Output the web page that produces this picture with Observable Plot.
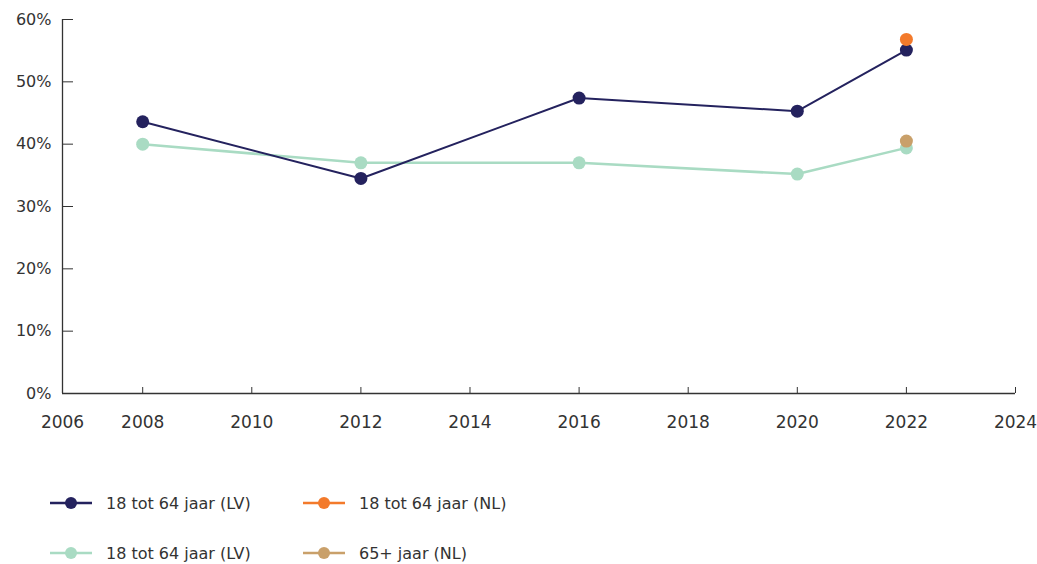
<!DOCTYPE html>
<html>
<head>
<meta charset="utf-8">
<script src="https://cdn.jsdelivr.net/npm/d3@7"></script>
<script src="https://cdn.jsdelivr.net/npm/@observablehq/plot@0.6"></script>
<style>
  html, body { margin: 0; padding: 0; background: #fff; }
  body { width: 1037px; height: 564px; overflow: hidden; font-family: "DejaVu Sans", sans-serif; color: #333; }
  #legend { margin-top: 28px; display: grid; grid-template-columns: 253px 300px; grid-auto-rows: 50px; padding-left: 50px; font-size: 16px; }
  .item { display: flex; align-items: center; }
  .item svg { margin-right: 14px; }
</style>
</head>
<body>
<div id="chart"></div>
<div id="legend"></div>
<script>
const years = [2008, 2012, 2016, 2020, 2022];
const lvDark = [43.6, 34.5, 47.4, 45.3, 55.1];
const lvLight = [40.0, 37.0, 37.0, 35.2, 39.4];
const nlYear = [2022];
const nl1864 = [56.8];
const nl65 = [40.5];
const xTicks = [2006, 2008, 2010, 2012, 2014, 2016, 2018, 2020, 2022, 2024];
const yTicks = [0, 10, 20, 30, 40, 50, 60];

const series = [
  {name: "18 tot 64 jaar (LV)", color: "#24225e", xs: years, ys: lvDark},
  {name: "18 tot 64 jaar (NL)", color: "#f37a2b", xs: nlYear, ys: nl1864},
  {name: "18 tot 64 jaar (LV)", color: "#a9dbc3", xs: years, ys: lvLight},
  {name: "65+ jaar (NL)", color: "#c9a06a", xs: nlYear, ys: nl65}
];
const rows = s => s.xs.map((x, i) => ({x, y: s.ys[i]}));
const dark = rows(series[0]), orange = rows(series[1]), light = rows(series[2]), tan = rows(series[3]);

const xMin = 2006.53;
const chart = Plot.plot({
  width: 1037,
  height: 450,
  marginLeft: 62,
  marginRight: 22,
  marginTop: 19,
  marginBottom: 57,
  style: {fontFamily: "'DejaVu Sans', sans-serif", fontSize: "16px", color: "#333"},
  x: {domain: [xMin, 2024], clamp: true},
  y: {domain: [0, 60]},
  marks: [
    Plot.ruleY([0], {stroke: "#333", strokeWidth: 1.3}),
    Plot.ruleX([xMin], {stroke: "#333", strokeWidth: 1.3}),
    Plot.axisX({ticks: xTicks, tickFormat: d => String(d), tickSize: -6, tickPadding: 28, fontSize: 17, stroke: "#333", fill: "#333", label: null}),
    Plot.axisY({ticks: yTicks, tickFormat: d => d + "%", tickSize: -11, tickPadding: 22, stroke: "#333", fill: "#333", label: null}),
    Plot.line(light, {x: "x", y: "y", stroke: series[2].color, strokeWidth: 2.5}),
    Plot.dot(light, {x: "x", y: "y", r: 6.5, fill: series[2].color}),
    Plot.line(dark, {x: "x", y: "y", stroke: series[0].color, strokeWidth: 2}),
    Plot.dot(dark, {x: "x", y: "y", r: 6.5, fill: series[0].color}),
    Plot.dot(orange, {x: "x", y: "y", r: 6.5, fill: series[1].color}),
    Plot.dot(tan, {x: "x", y: "y", r: 6.5, fill: series[3].color})
  ]
});
document.getElementById("chart").appendChild(chart);

const legend = document.getElementById("legend");
for (const s of series) {
  const item = document.createElement("div");
  item.className = "item";
  item.innerHTML = `<svg width="42" height="14"><line x1="0" x2="42" y1="7" y2="7" stroke="${s.color}" stroke-width="2.5"/><circle cx="21" cy="7" r="6" fill="${s.color}"/></svg><span>${s.name}</span>`;
  legend.appendChild(item);
}
</script>
</body>
</html>
